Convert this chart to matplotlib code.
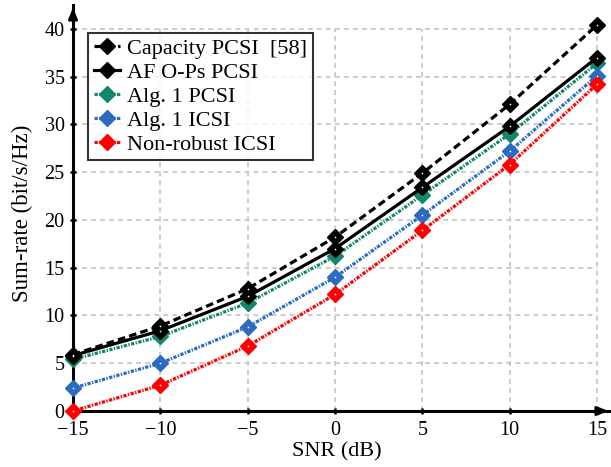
import matplotlib
matplotlib.use("Agg")
import matplotlib.pyplot as plt

plt.rcParams['font.family'] = ['Liberation Serif', 'DejaVu Serif']
plt.rcParams['lines.scale_dashes'] = False

snr = [-15, -10, -5, 0, 5, 10, 15]
capacity_pcsi = [5.9, 8.9, 12.8, 18.2, 24.9, 32.1, 40.4]
af_ops_pcsi = [5.8, 8.4, 12.0, 17.0, 23.4, 29.8, 37.0]
alg1_pcsi = [5.4, 7.8, 11.3, 16.2, 22.6, 29.0, 36.4]
alg1_icsi = [2.4, 5.0, 8.8, 14.0, 20.5, 27.2, 35.1]
nonrobust_icsi = [0.0, 2.7, 6.8, 12.2, 18.9, 25.8, 34.2]

labels = ["Capacity PCSI  [58]", "AF O-Ps PCSI", "Alg. 1 PCSI", "Alg. 1 ICSI", "Non-robust ICSI"]
xticks = [-15, -10, -5, 0, 5, 10, 15]
yticks = [0, 5, 10, 15, 20, 25, 30, 35, 40]

fig = plt.figure(figsize=(6.11, 4.67), dpi=100)
ax = fig.add_axes([73/611, 56/467, 1 - 73/611, (411 - 5)/467])
ax.set_xlim(-15, 15.8)
ax.set_ylim(0, 42.5)

# grid (stops at last tick)
for yt in yticks:
    ax.plot([-15, 15], [yt, yt], color='#c8c8c8', lw=1.3, ls=(0, (3.5, 3)), zorder=0)
for xt in xticks:
    ax.plot([xt, xt], [0, 40], color='#c8c8c8', lw=1.3, ls=(0, (3.5, 3)), zorder=0)

green = '#13876d'
blue = '#2b6cc0'
red = '#ff0000'
dd = (0, (2.4, 1.0, 1.0, 1.0))

series = [
    (capacity_pcsi, 'black', (0, (5.5, 3.0)), labels[0], 5),
    (af_ops_pcsi, 'black', '-', labels[1], 5),
    (alg1_pcsi, green, dd, labels[2], 4),
    (alg1_icsi, blue, dd, labels[3], 4),
    (nonrobust_icsi, red, dd, labels[4], 4),
]
handles = []
for vals, col, ls, lab, z in series:
    h, = ax.plot(snr, vals, color=col, ls=ls, lw=2.3, marker='D', ms=8,
                 mfc=col, mec=col, label=lab, zorder=z, clip_on=False)
    ax.plot(snr, vals, ls='none', marker='o', ms=1.2, mfc='white', mec='none',
            zorder=z + 0.1, clip_on=False)
    handles.append(h)

# axes with arrows
for s in ['top', 'right']:
    ax.spines[s].set_visible(False)
ax.spines['left'].set_linewidth(2.2)
ax.spines['bottom'].set_linewidth(2.2)
ax.spines['left'].set_zorder(3)
ax.spines['bottom'].set_zorder(3)
ax.annotate('', xy=(1.0, 0), xytext=(0.97, 0), xycoords=('axes fraction', 'data'),
            textcoords=('axes fraction', 'data'),
            arrowprops=dict(arrowstyle='-|>,head_length=0.6,head_width=0.25', color='black', lw=2.2),
            annotation_clip=False)
ax.annotate('', xy=(-15, 1.0), xytext=(-15, 0.96), xycoords=('data', 'axes fraction'),
            textcoords=('data', 'axes fraction'),
            arrowprops=dict(arrowstyle='-|>,head_length=0.6,head_width=0.25', color='black', lw=2.2),
            annotation_clip=False)

ax.set_xticks(xticks)
ax.set_yticks(yticks)
ax.set_xticklabels([str(t).replace('-', '\u2212') for t in xticks])
ax.tick_params(direction='inout', length=4, width=1.8, labelsize=14.5)
ax.tick_params(axis='x', pad=5.5)
ax.tick_params(axis='y', pad=4)

ax.set_xlabel('SNR (dB)', fontsize=16)
ax.set_ylabel('Sum-rate (bit/s/Hz)', fontsize=16.5)
ax.xaxis.set_label_coords(264/538, -31/406)
ax.yaxis.set_label_coords(-40/538, 198/406)

leg = ax.legend(handles=handles, loc='upper left', bbox_to_anchor=(0.028, 0.931),
                fontsize=16, frameon=True, fancybox=False, edgecolor='black',
                handlelength=1.2, handletextpad=0.3, labelspacing=0.15,
                borderpad=0.25, borderaxespad=0)
leg.get_frame().set_linewidth(1.5)
leg.set_zorder(10)

fig.savefig('out.png', dpi=100)
